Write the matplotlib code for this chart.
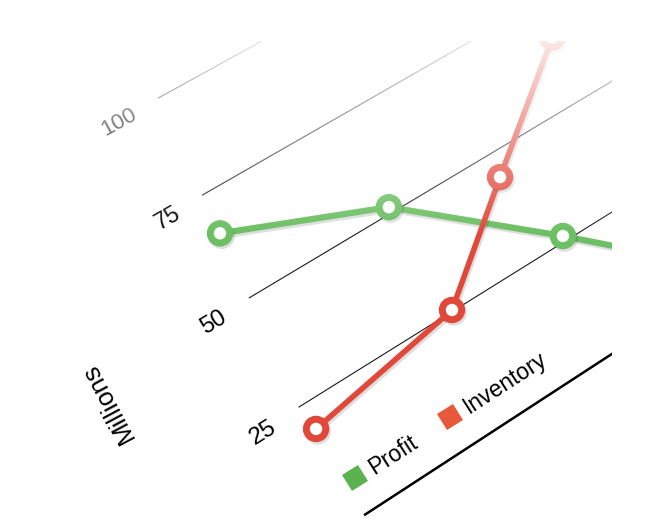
import numpy as np
import matplotlib
matplotlib.use('Agg')
import matplotlib.pyplot as plt
import matplotlib.transforms as mtransforms
import matplotlib.patheffects as pe
from matplotlib.markers import MarkerStyle

plt.rcParams['font.family'] = ['Liberation Sans', 'DejaVu Sans']

# values (x in category steps, y in millions)
profit_x = [0.0, 1.035, 1.944, 2.8]
profit = [65.5, 51.4, 26.2, 1.0]
inventory_x = [0.038, 1.096, 1.768, 2.547]
inventory = [19.4, 25.3, 44.4, 66.0]
grid_values = [25, 50, 75, 100]
grid_labels = ['25', '50', '75', '100']
series_names = ['Profit', 'Inventory']
line_colors = ['#6cbf62', '#e2483a']
legend_colors = ['#5ab34f', '#e6593b']

W, H = 650, 523

# tilted perspective of the chart plane (image pixels, y down)
ORIGIN = (299.0, 407.0)      # x = 0, value = 25
VP_X = (5694.0, -2954.0)     # vanishing point of the value lines
VP_Y = (-1353.0, -3225.0)    # vanishing point of the vertical direction
K_X = 170.0 / 6356.0
K_Y = 0.00124


class Tilt(mtransforms.Transform):
    input_dims = output_dims = 2

    def transform_non_affine(self, values):
        values = np.asarray(values, dtype=float).reshape(-1, 2)
        a = values[:, 0] * K_X
        b = (values[:, 1] - 25.0) * K_Y
        w = 1.0 + a + b
        px = (ORIGIN[0] + a * VP_X[0] + b * VP_Y[0]) / w
        py = (ORIGIN[1] + a * VP_X[1] + b * VP_Y[1]) / w
        return np.column_stack([px, H - py])


tilt = Tilt()


def angle_at(x, v):
    p0 = tilt.transform([[x, v]])[0]
    p1 = tilt.transform([[x + 0.01, v]])[0]
    return np.degrees(np.arctan2(p1[1] - p0[1], p1[0] - p0[0]))


def scale_at(x, v):
    return 1.0 / (1.0 + x * K_X + (v - 25) * K_Y)


fig = plt.figure(figsize=(W / 100, H / 100), dpi=100)
fig.patch.set_facecolor('white')
ax = fig.add_axes([0, 0, 612 / W, (H - 41) / H])
ax.set_axis_off()

# grid lines and base line
for v in grid_values:
    ax.plot([0, 6], [v, v], transform=tilt, color='#1a1a1a', lw=0.8, zorder=1)
ax.plot([0.09, 6], [0, 0], transform=tilt, color='black', lw=1.8, zorder=1)

# series
shadow = [pe.SimpleLineShadow(offset=(1.2, -1.8), alpha=0.13), pe.Normal()]
ax.plot(profit_x, profit, transform=tilt, color=line_colors[0], lw=4.5,
        marker='o', ms=14, mew=5, mfc='white', mec=line_colors[0],
        path_effects=shadow, zorder=3)
ax.plot(inventory_x, inventory, transform=tilt, color=line_colors[1], lw=4,
        marker='o', ms=14, mew=5, mfc='white', mec=line_colors[1],
        path_effects=shadow, zorder=4)

# value labels
lx = -30 / 170
for v, lab in zip(grid_values, grid_labels):
    ax.text(lx, v - 0.6, lab, transform=tilt, ha='right', va='center',
            rotation=angle_at(lx, v), rotation_mode='anchor',
            fontsize=17.6 * scale_at(lx, v) / scale_at(lx, 25), color='black')

ax.text(-1.024, 46.5, 'Millions', transform=tilt, ha='center', va='center',
        rotation=118, rotation_mode='anchor', fontsize=18.5, color='black')

# legend
legend_x = [21 / 170, 134 / 170]
legend_v = 7
for x0, name, col in zip(legend_x, series_names, legend_colors):
    ang = angle_at(x0, legend_v)
    ax.plot([x0], [legend_v], transform=tilt, linestyle='none',
            marker=MarkerStyle('s', transform=mtransforms.Affine2D().rotate_deg(ang)),
            ms=13.5, color=col, mew=0, zorder=3)
    ax.text(x0 + 19 / 170, legend_v - 1.5, name, transform=tilt, ha='left',
            va='baseline', rotation=ang, rotation_mode='anchor',
            fontsize=16.5, color='black')

# white fade towards the top
rows = np.arange(H)
fade = np.clip((235 - rows) / 195, 0, 1) * 0.88
overlay = np.ones((H, 1, 4))
overlay[:, 0, 3] = fade
ov = fig.add_axes([0, 0, 1, 1], zorder=10)
ov.imshow(overlay, aspect='auto', extent=[0, 1, 0, 1], origin='upper',
          interpolation='bilinear')
ov.set_axis_off()

fig.savefig('out.png', dpi=100, facecolor='white')
